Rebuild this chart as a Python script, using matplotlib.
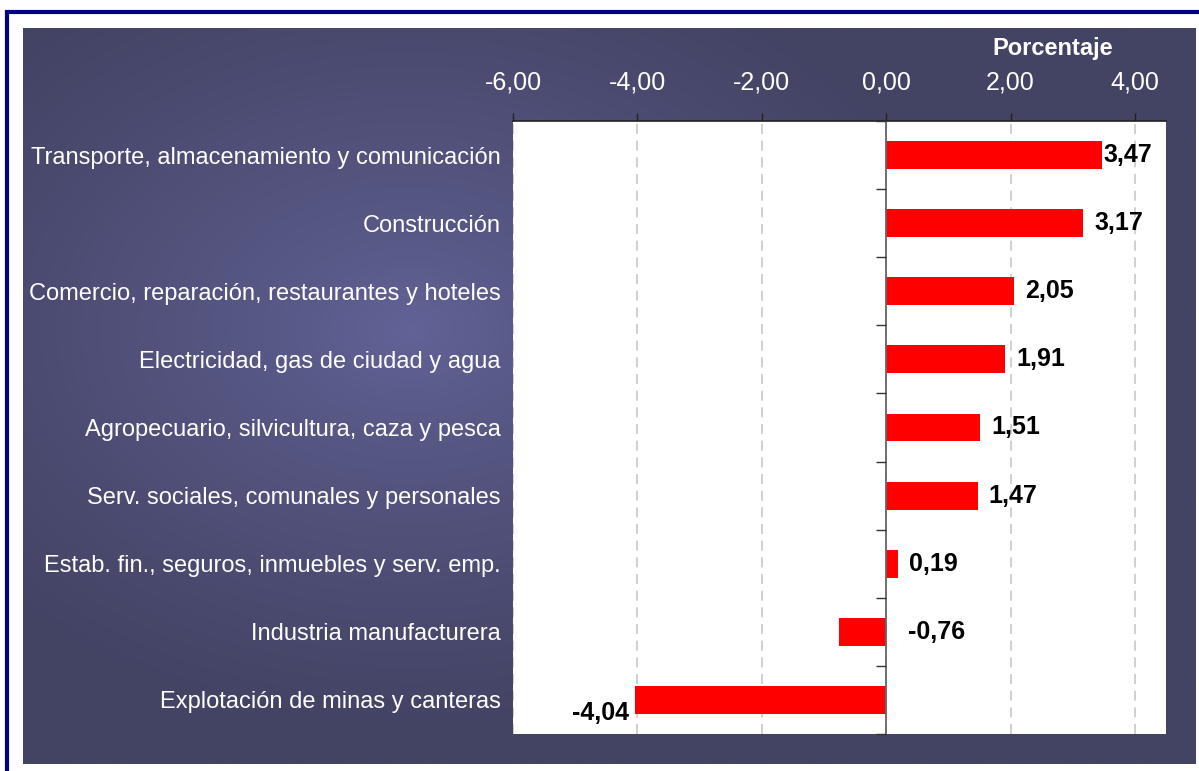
import numpy as np
import matplotlib
matplotlib.use("Agg")
import matplotlib.pyplot as plt
from matplotlib.patches import Rectangle

plt.rcParams['font.family'] = ['Liberation Sans', 'DejaVu Sans']

# Données
sectores = [
    "Transporte, almacenamiento y comunicación",
    "Construcción",
    "Comercio, reparación, restaurantes y hoteles",
    "Electricidad, gas de ciudad y agua",
    "Agropecuario, silvicultura, caza y pesca",
    "Serv. sociales, comunales y personales",
    "Estab. fin., seguros, inmuebles y serv. emp.",
    "Industria manufacturera",
    "Explotación de minas y canteras",
]
valores = [3.47, 3.17, 2.05, 1.91, 1.51, 1.47, 0.19, -0.76, -4.04]
ticks_x = [-6, -4, -2, 0, 2, 4]

W, H = 1199, 771
fig = plt.figure(figsize=(W / 100, H / 100), dpi=100)
fig.patch.set_facecolor("white")

# Marco azul exterior
fig.patches.append(Rectangle((7 / W, -0.05), 1.2, 1 - 7 / H + 0.05 - 5 / H,
                             transform=fig.transFigure, fill=False,
                             edgecolor="#000080", linewidth=3))

# Fondo con degradado radial
bg = fig.add_axes([23 / W, 1 - 764 / H, (1196 - 23) / W, (764 - 28) / H])
nx, ny = 400, 260
xx, yy = np.meshgrid(np.linspace(23, 1196, nx), np.linspace(28, 764, ny))
d = np.sqrt(((xx - 410) / 560) ** 2 + ((yy - 330) / 400) ** 2)
d = np.clip(d, 0, 1) ** 0.8
c0 = np.array([0x63, 0x63, 0x98]) / 255
c1 = np.array([0x43, 0x43, 0x64]) / 255
img = c0[None, None, :] * (1 - d[..., None]) + c1[None, None, :] * d[..., None]
bg.imshow(img, aspect="auto", interpolation="bilinear")
bg.set_axis_off()

# Gráfico
ax = fig.add_axes([513 / W, 1 - 734 / H, (1166 - 513) / W, (734 - 121) / H])
ax.set_facecolor("white")
y = np.arange(len(sectores))
ax.barh(y, valores, height=0.41, color="#ff0000", zorder=3)
ax.set_xlim(-6, 4.5)
ax.set_ylim(len(sectores) - 0.5, -0.5)

ax.xaxis.tick_top()
ax.set_xticks(ticks_x)
ax.set_xticklabels([f"{t:.2f}".replace(".", ",") for t in ticks_x],
                   color="white", fontsize=18)
ax.tick_params(axis="x", direction="out", length=6, width=1, color="#222222", pad=13)
ax.grid(axis="x", color="#c8c8c8", linestyle=(0, (6, 4)), linewidth=1.2, zorder=1)
ax.axvline(0, color="#666666", linewidth=1.3, zorder=4)

ax.set_yticks(y)
ax.set_yticklabels(sectores, color="white", fontsize=17)
ax.tick_params(axis="y", length=0, pad=9)

for s in ["left", "right", "bottom"]:
    ax.spines[s].set_visible(False)
ax.spines["top"].set_color("#222222")
ax.spines["top"].set_linewidth(1.2)

# Marcas del eje de categorías sobre el cero
ax2 = ax.twinx()
ax2.set_ylim(ax.get_ylim())
ax2.spines["right"].set_position(("data", 0))
for s in ["left", "top", "bottom", "right"]:
    ax2.spines[s].set_visible(False)
ax2.set_yticks(np.arange(len(sectores) + 1) - 0.5)
ax2.set_yticklabels([])
ax2.tick_params(axis="y", direction="in", length=7, width=1, color="#333333")

# Etiquetas de datos
for i, v in enumerate(valores):
    txt = f"{v:.2f}".replace(".", ",")
    if v >= 0:
        off = 2 if i == 0 else 11
        ax.annotate(txt, (v, i), xytext=(off, 0), textcoords="offset pixels",
                    ha="left", va="center", fontsize=18, fontweight="bold", zorder=5)
    elif v > -1:
        ax.annotate(txt, (0, i), xytext=(22, 0), textcoords="offset pixels",
                    ha="left", va="center", fontsize=18, fontweight="bold", zorder=5)
    else:
        ax.annotate(txt, (v, i), xytext=(-6, -13), textcoords="offset pixels",
                    ha="right", va="center", fontsize=18, fontweight="bold", zorder=5)

fig.text(1053 / W, 1 - 48 / H, "Porcentaje", color="white", fontsize=17,
         fontweight="bold", ha="center", va="center")

fig.savefig("out.png", dpi=100)
